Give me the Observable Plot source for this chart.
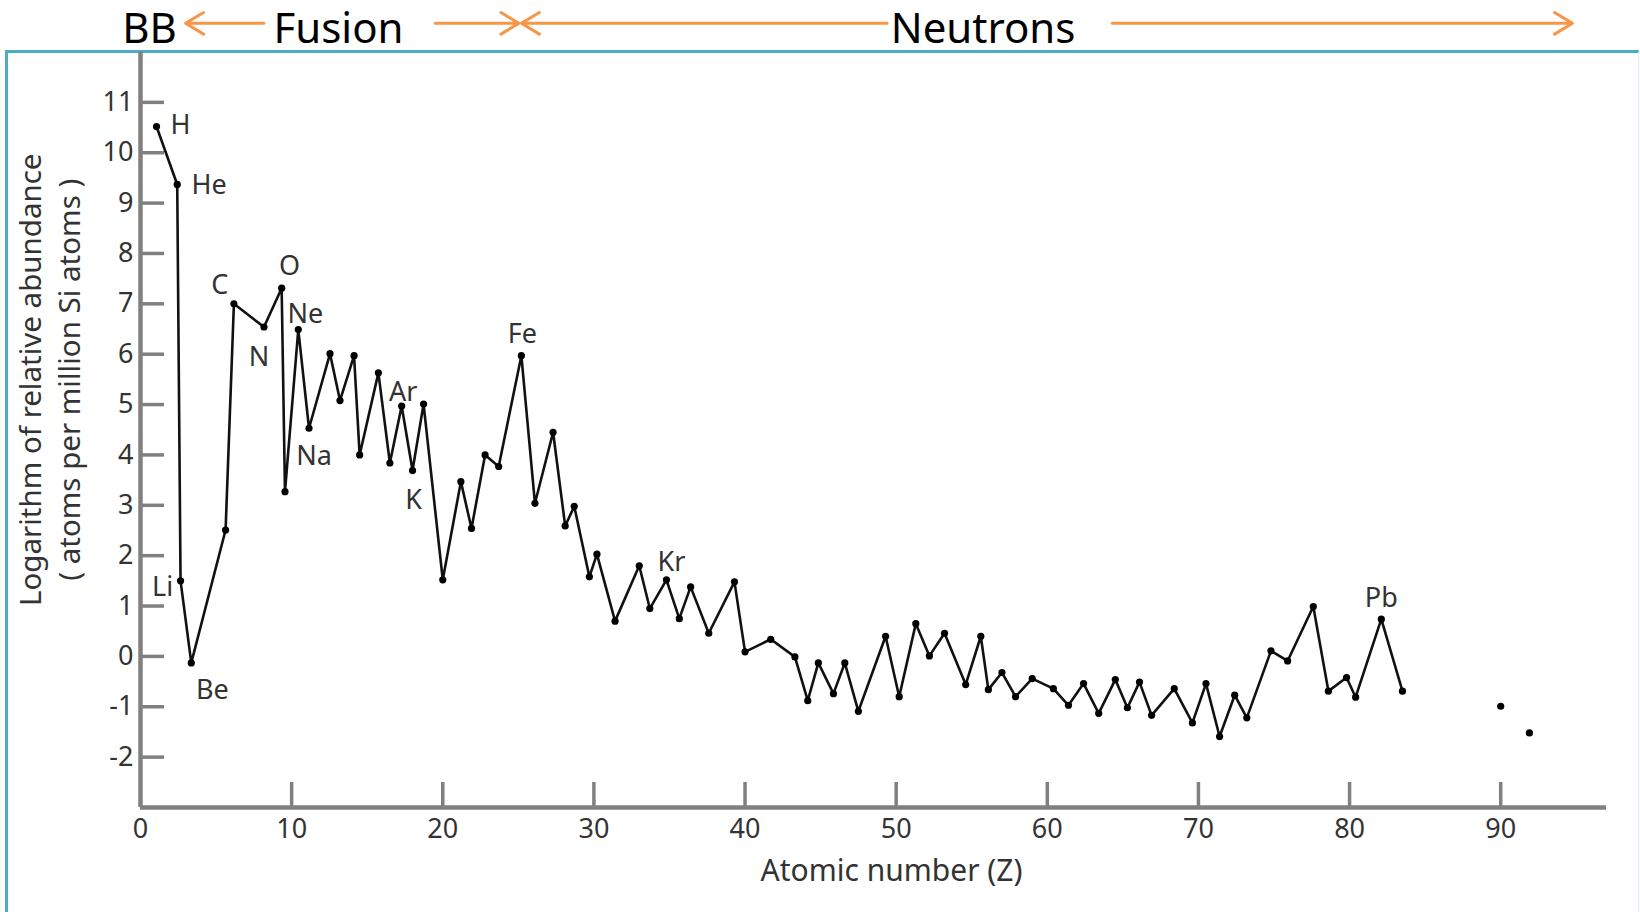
<!DOCTYPE html>
<html>
<head>
<meta charset="utf-8">
<script src="https://cdn.jsdelivr.net/npm/d3@7"></script>
<script src="https://cdn.jsdelivr.net/npm/@observablehq/plot@0.6"></script>
<style>
  html, body { margin: 0; padding: 0; background: #fff; width: 1640px; height: 912px; overflow: hidden; }
  #frame { position: absolute; left: 5px; top: 50px; width: 1630px; height: 900px;
           border-left: 3px solid #4bacc6; border-top: 3px solid #4bacc6; border-right: 1px solid #d9eef5; }
  #chart { position: absolute; left: 0; top: 0; }
</style>
</head>
<body>
<div id="frame"></div>
<div id="chart"></div>
<script>
// Atomic number (as drawn) and log10 relative abundance (atoms per 10^6 Si atoms)
const atomicNumber = [1.06, 2.43, 2.65, 3.36, 5.63, 6.18, 8.17, 9.34, 9.56, 10.44,
  11.15, 12.54, 13.2, 14.13, 14.5, 15.74, 16.5, 17.28, 18.0, 18.73,
  20.0, 21.2, 21.9, 22.8, 23.7, 25.2, 26.1, 27.3, 28.1, 28.7,
  29.7, 30.2, 31.4, 33.0, 33.7, 34.8, 35.65, 36.4, 37.6, 39.3,
  40.0, 41.7, 43.3, 44.15, 44.85, 45.85, 46.6, 47.5, 49.3, 50.2,
  51.3, 52.2, 53.2, 54.6, 55.6, 56.1, 57.0, 57.9, 59.0, 60.4,
  61.4, 62.4, 63.4, 64.5, 65.3, 66.1, 66.9, 68.4, 69.6, 70.5,
  71.4, 72.4, 73.2, 74.8, 75.9, 77.6, 78.6, 79.8, 80.4, 82.1, 83.5];
const logAbundance = [10.52, 9.37, 1.50, -0.13, 2.51, 7.00, 6.54, 7.31, 3.27, 6.49,
  4.53, 6.01, 5.08, 5.97, 4.00, 5.63, 3.84, 4.97, 3.69, 5.01,
  1.52, 3.47, 2.54, 4.00, 3.77, 5.97, 3.04, 4.45, 2.59, 2.98,
  1.58, 2.03, 0.70, 1.80, 0.95, 1.52, 0.75, 1.38, 0.46, 1.48,
  0.09, 0.34, -0.01, -0.88, -0.13, -0.74, -0.13, -1.09, 0.40, -0.80,
  0.65, 0.01, 0.46, -0.56, 0.40, -0.66, -0.32, -0.80, -0.44, -0.64,
  -0.97, -0.54, -1.13, -0.46, -1.02, -0.51, -1.17, -0.64, -1.32, -0.54,
  -1.59, -0.77, -1.22, 0.11, -0.09, 0.99, -0.69, -0.42, -0.81, 0.74, -0.69];
// Unconnected heavy elements (Th, U)
const isolatedNumber = [90.0, 91.9];
const isolatedAbundance = [-0.99, -1.52];

// Element labels and the point each one names
const labelSymbols = ["H", "He", "Li", "Be", "C", "N", "O", "Ne", "Na", "Ar", "K", "Fe", "Kr", "Pb"];
const labelPoints  = [0, 1, 2, 3, 5, 6, 7, 9, 10, 17, 18, 25, 35, 79];

// Tick values
const xTicks = [0, 10, 20, 30, 40, 50, 60, 70, 80, 90];
const yTicks = [-2, -1, 0, 1, 2, 3, 4, 5, 6, 7, 8, 9, 10, 11];

// Header: region names and arrows (in atomic-number units)
const regionNames = ["BB", "Fusion", "Neutrons"];
const regionCenters = [0.6, 13.1, 55.75];
const arrowFrom = [8.16, 19.5, 49.4, 64.3];
const arrowTo   = [2.98, 25.04, 25.2, 94.75];

// ---- build tables ----
const points = atomicNumber.map((z, i) => ({z, v: logAbundance[i]}));
const isolated = isolatedNumber.map((z, i) => ({z, v: isolatedAbundance[i]}));
const regions = regionNames.map((name, i) => ({name, z: regionCenters[i]}));
const arrows = arrowFrom.map((a, i) => ({a, b: arrowTo[i]}));

// label styling offsets (pixels)
const labelOffset = {
  H: [24, -1], He: [32, 1], Li: [-18, 7], Be: [21, 27], C: [-14, -18],
  N: [-5, 30], O: [8, -22], Ne: [7, -15], Na: [5, 28], Ar: [1.5, -14],
  K: [1, 30], Fe: [1, -21], Kr: [5, -17], Pb: [0, -21]
};
const labelMarks = labelSymbols.map((s, i) => {
  const p = points[labelPoints[i]];
  const [dx, dy] = labelOffset[s];
  return Plot.text([{...p, s}], {x: "z", y: "v", text: "s", dx, dy,
    fontSize: 27, fill: "#333", lineAnchor: "middle", textAnchor: "middle"});
});

const axisGray = "#808080";
const headerY = 12.57;

const chart = Plot.plot({
  width: 1640,
  height: 912,
  marginLeft: 140,
  marginRight: 34,
  marginTop: 51.5,
  marginBottom: 105,
  x: {domain: [0, 97]},
  y: {domain: [-3, 12]},
  style: {fontFamily: "'Noto Sans', sans-serif", background: "transparent", overflow: "visible", color: "#333"},
  marks: [
    // ticks (inward)
    Plot.axisY(yTicks, {tickSize: 24, dx: 24, fill: "none", stroke: axisGray, strokeWidth: 3.5, label: null}),
    Plot.axisX(xTicks.slice(1), {tickSize: 25, dy: -25, fill: "none", stroke: axisGray, strokeWidth: 3.5, label: null}),
    // tick labels
    Plot.axisY(yTicks, {tickSize: 0, tickPadding: 7, tickFormat: d => String(d), fontSize: 27, fill: "#333", stroke: "none", label: null}),
    Plot.axisX(xTicks, {tickSize: 0, tickPadding: 11, tickFormat: d => String(d), fontSize: 27, fill: "#333", stroke: "none", label: null}),
    // axis lines
    Plot.ruleX([0], {stroke: axisGray, strokeWidth: 4.5}),
    Plot.ruleY([-3], {stroke: axisGray, strokeWidth: 4.5}),
    // axis titles
    Plot.text(["Atomic number (Z)"], {frameAnchor: "bottom", dx: 18, dy: 64, fontSize: 30, fill: "#333", lineAnchor: "middle", textAnchor: "middle"}),
    Plot.text(["Logarithm of relative abundance"], {frameAnchor: "left", dx: -109, dy: -50, rotate: -90, fontSize: 29.5, fill: "#333", lineAnchor: "middle", textAnchor: "middle"}),
    Plot.text(["( atoms per million Si atoms )"], {frameAnchor: "left", dx: -70, dy: -50, rotate: -90, fontSize: 29.5, fill: "#333", lineAnchor: "middle", textAnchor: "middle"}),
    // data
    Plot.line(points, {x: "z", y: "v", stroke: "#111", strokeWidth: 2.6, strokeLinejoin: "miter"}),
    Plot.dot(points, {x: "z", y: "v", r: 3.6, fill: "#000"}),
    Plot.dot(isolated, {x: "z", y: "v", r: 3.6, fill: "#000"}),
    ...labelMarks,
    // header
    Plot.text(regions, {x: "z", text: "name", frameAnchor: "top", dy: -22.5, fontSize: 42, fill: "#000", lineAnchor: "middle"}),
    Plot.arrow(arrows, {x1: "a", x2: "b", y1: () => headerY, y2: () => headerY, stroke: "#f79646", strokeWidth: 3, headLength: 10.5, headAngle: 62})
  ]
});
document.getElementById("chart").appendChild(chart);
</script>
</body>
</html>
